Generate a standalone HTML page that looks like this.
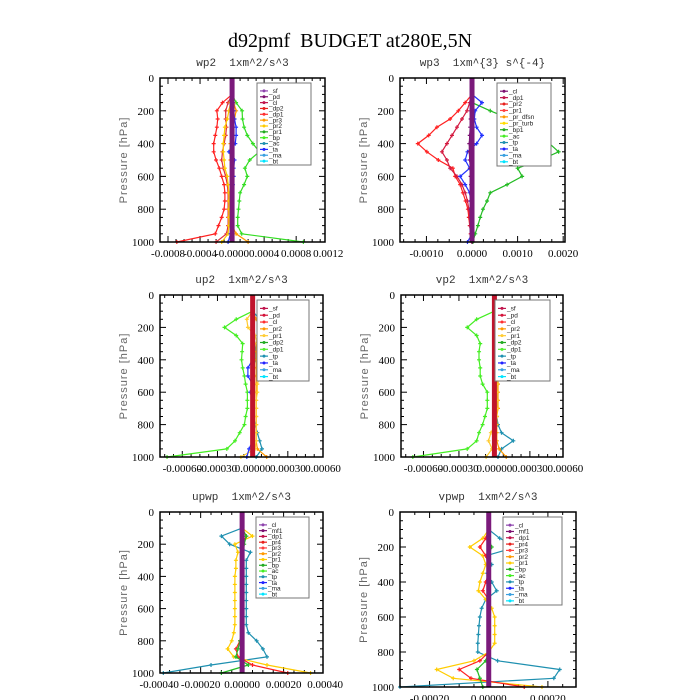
<!DOCTYPE html>
<html><head><meta charset="utf-8"><style>
html,body{margin:0;padding:0;background:#fff;}
svg{display:block;}
text{font-family:"Liberation Serif",serif;white-space:pre;}
.mono{font-family:"Liberation Mono","DejaVu Sans Mono",monospace;}
.sans{font-family:"Liberation Sans","DejaVu Sans",sans-serif;}
</style></head><body>
<svg id="chart" width="700" height="700" viewBox="0 0 700 700">
<text x="350" y="47" text-anchor="middle" font-size="20" xml:space="preserve">d92pmf  BUDGET at280E,5N</text>
</svg>
<script>
// pressure levels (hPa)
const P = [100,150,200,250,300,350,400,450,500,550,600,650,700,750,800,850,900,950,1000];
// values in units of 1e-4
const wp2_dp1 = [0,-1.2,-1.9,-1.8,-1.9,-2.1,-2.3,-2.3,-2,-1.6,-1.3,-1,-0.9,-0.9,-1,-1.3,-1.7,-2.1,-6.9];
const wp2_dp2 = [0,-0.5,-0.8,-0.8,-0.7,-0.8,-1,-1.2,-1.3,-1.1,-0.8,-0.6,-0.5,-0.5,-0.5,-0.5,-0.5,-0.7,-2];
const wp2_bp = [0,0.5,1.25,1.3,1.5,1.9,2.6,3.4,2.2,1.6,1.9,1.5,1,0.9,0.8,0.7,0.7,1.2,8.9];
const wp2_pr2 = [0,-0.2,-0.4,-0.6,-0.9,-1,-1.1,-1.1,-1,-0.9,-0.6,-0.5,-0.4,-0.4,-0.4,-0.4,-0.4,-0.5,-1.3];
const wp2_pr3 = [0,0.2,0.5,0.3,0.1,0,-0.2,-0.3,-0.2,0,0.1,0,0,0,0,0,0,0.5,2];
const wp2_ta = [0,0.1,0.2,0.3,0.5,0.5,0.4,-0.4,0.3,0.2,0.2,0.1,0,0,0,0,0,-0.2,-0.5];

const wp3_pr2 = [0,-1.5,-3,-4.8,-7.7,-9.5,-11.9,-9.9,-7.4,-4.2,-3.7,-2.6,-2,-1.4,-0.9,-0.7,-0.5,-0.3,0];
const wp3_dp1 = [0,-0.5,-1.1,-2.2,-3.3,-4.4,-5.5,-6.6,-5.5,-4.8,-3.3,-2.2,-1.5,-1,-0.7,-0.5,-0.4,-0.2,0];
const wp3_bp1 = [0,0,4,8.4,12,15,17,19,15,10,11,7.7,4,3.3,2.4,1.8,1.3,0.7,0.2];
const wp3_ta = [0,2.2,0.7,0.5,1,2.2,1,-1,-1.5,-0.5,-2.6,-1.5,-0.5,-0.3,-0.2,0,0,0,-1];
const wp3_cl = [0,0,-0.2,-0.3,-0.4,-0.5,-0.6,-0.6,-0.5,-0.4,-0.3,-0.2,-0.2,-0.1,-0.1,0,0,0,0];

const up2_dp1 = [0,-1.4,-2.4,-1.4,-0.85,-0.9,-0.95,-0.85,-0.7,-0.6,-0.45,-0.45,-0.45,-0.6,-0.7,-1.1,-1.5,-2.2,-7.3];
const up2_tp = [0,0.6,2,1,0.3,0.2,0.2,0.1,0.1,0.1,0.1,0.1,0.1,0.1,0.2,0.4,0.6,0.8,0.3];
const up2_pr2 = [0,0.3,0.8,0.4,0.3,0.3,0.3,0.3,0.3,0.3,0.3,0.3,0.3,0.3,0.3,0.3,0.3,0.4,1.2];
const up2_pr1 = [0,-0.5,-0.4,0.2,0.4,0.5,0.6,0.7,0.6,0.4,0.4,0.3,0.3,0.3,0.3,0.3,0.3,0.2,-1];
const up2_ta = [0,0,0,0,0,0,0,-0.4,-0.4,0,-0.2,0,0,0,0,0,0,-0.3,-0.5];

const vp2_dp1 = [0,-1.5,-2.3,-1.5,-1.2,-1.3,-1.3,-1.2,-1.2,-1.0,-0.6,-0.6,-0.6,-0.8,-1,-1.3,-1.5,-2.3,-6.9];
const vp2_tp = [0,0.9,1.5,0.8,0.4,0.3,0.3,0.2,0.2,0.2,0.2,0.2,0.2,0.2,0.3,0.6,1.6,0.6,0.3];
const vp2_pr2 = [0,0.4,0.6,0.5,0.4,0.3,0.3,0.3,0.3,0.3,0.3,0.3,0.3,0.2,0.2,0.2,0.2,0.4,1];
const vp2_pr1 = [0,0.2,0.3,0.3,0.3,0.3,0.2,0.2,0.2,0.2,0.2,0.2,0.2,0.2,0.1,-0.3,-0.5,-0.2,-0.7];

const upwp_tp = [0,-1.0,-0.6,0.4,0.2,0.2,0.2,0.2,0.2,0.2,0.2,0.2,0.2,0.3,0.7,1.0,1.2,-1.5,-3.8];
const upwp_pr1 = [0,0.5,-0.35,-0.2,-0.3,-0.3,-0.35,-0.35,-0.35,-0.35,-0.35,-0.35,-0.35,-0.4,-0.5,-0.7,-0.4,1.2,3.3];
const upwp_pr4 = [0,0.2,0,0,0,0,0,0,0,0,0,0,0,0,-0.1,-0.3,-0.2,0.5,2.2];
const upwp_bp = [0,0.2,0.1,0,0,0,0,0,0,0,0,0,0,0,-0.1,-0.2,-0.3,0.3,-1];

const vpwp_ma = [0,0.37,0.94,-0.1,0.1,-0.05,0.1,0.27,-0.1,-0.24,-0.3,-0.33,-0.35,-0.37,-0.37,0.3,2.4,2.2,-3.0];
const vpwp_pr1 = [0,-0.2,-0.64,-0.2,-0.1,-0.2,-0.3,-0.35,-0.1,0.1,0.2,0.2,0.2,0.2,0,-0.5,-1.76,-1.2,1.8];
const vpwp_pr4 = [0,-0.1,-0.3,-0.1,0,0,-0.1,-0.2,0,0,0,0,0,0,0,-0.3,-1,-0.6,1.2];
const vpwp_bp = [0,0,0.1,0,0,0,0,0,0,0,0,0,0,0,0,-0.1,-0.4,-0.3,-0.2];

const yTicks = [0,200,400,600,800,1000];
const ticks1 = [-0.0008,-0.0004,0,0.0004,0.0008,0.0012];
const tickLabels1 = ["-0.0008","-0.0004","-0.0000","0.0004","0.0008","0.0012"];
const ticks2 = [-0.001,0,0.001,0.002];
const tickLabels2 = ["-0.0010","0.0000","0.0010","0.0020"];
const ticks3 = [-0.0006,-0.0003,0,0.0003,0.0006];
const tickLabels3 = ["-0.00060","-0.00030","0.00000","0.00030","0.00060"];
const ticks5 = [-0.0004,-0.0002,0,0.0002,0.0004];
const tickLabels5 = ["-0.00040","-0.00020","0.00000","0.00020","0.00040"];
const ticks6 = [-0.0002,0,0.0002];
const tickLabels6 = ["-0.00020","0.00000","0.00020"];

const legend1 = ["_sf","_pd","_cl","_dp2","_dp1","_pr3","_pr2","_pr1","_bp","_ac","_ta","_ma","_bt"];
const legend2 = ["_cl","_dp1","_pr2","_pr1","_pr_dfsn","_pr_turb","_bp1","_ac","_tp","_ta","_ma","_bt"];
const legend3 = ["_sf","_pd","_cl","_pr2","_pr1","_dp2","_dp1","_tp","_ta","_ma","_bt"];
const legend5 = ["_cl","_mf1","_dp1","_pr4","_pr3","_pr2","_pr1","_bp","_ac","_tp","_ta","_ma","_bt"];
const legendColors1 = ["#8e44ad","#7b1070","#c0144c","#e8201c","#ff3030","#ff9900","#ffcc00","#22aa22","#44ee22","#1e90b0","#2222ff","#3aa0e0","#00e5ff"];
const legendColors2 = ["#7b1070","#c0144c","#e8201c","#ff4040","#ff9900","#ffdd00","#22aa22","#44ee22","#1e90b0","#2222ff","#3aa0e0","#00e5ff"];
const legendColors3 = ["#c0144c","#d4143a","#ff3030","#ff9900","#ffcc33","#22aa22","#55ee33","#1e90b0","#2222ff","#3aa0e0","#00e5ff"];
const legendColors5 = ["#8e44ad","#7b1070","#c0144c","#e8201c","#ff4040","#ff9900","#ffcc00","#22aa22","#44ee22","#1e90b0","#2222ff","#3aa0e0","#00e5ff"];

const panels = [
 {name:"wp2",title:"wp2  1xm^2/s^3",x0:160,x1:325,y0:78,y1:242,dom:[-0.0009,0.00116],ticks:ticks1,labels:tickLabels1,
  leg:[257,83,54,82],legend:legend1,legCol:legendColors1,center:"#7b1a7b",
  series:[[wp2_dp1,"#ff2020"],[wp2_dp2,"#e0303a"],[wp2_bp,"#33dd22"],[wp2_pr2,"#ffcc00"],[wp2_pr3,"#ff9900"],[wp2_ta,"#2233ff"]]},
 {name:"wp3",title:"wp3  1xm^{3} s^{-4}",x0:400,x1:565,y0:78,y1:242,dom:[-0.00158,0.00204],ticks:ticks2,labels:tickLabels2,
  leg:[497,83,54,83],legend:legend2,legCol:legendColors2,center:"#7b1a7b",
  series:[[wp3_pr2,"#ff2020"],[wp3_dp1,"#d41a40"],[wp3_bp1,"#22bb22"],[wp3_ta,"#2233ff"],[wp3_cl,"#7b1070"]]},
 {name:"up2",title:"up2  1xm^2/s^3",x0:160,x1:323,y0:295,y1:457,dom:[-0.00079,0.0006],ticks:ticks3,labels:tickLabels3,
  leg:[257,300,52,81],legend:legend3,legCol:legendColors3,center:"#c0142c",
  series:[[up2_dp1,"#44ee22"],[up2_tp,"#1e90b0"],[up2_pr2,"#ff9900"],[up2_pr1,"#ffcc33"],[up2_ta,"#2233ff"]]},
 {name:"vp2",title:"vp2  1xm^2/s^3",x0:401,x1:563,y0:295,y1:457,dom:[-0.00079,0.00058],ticks:ticks3,labels:tickLabels3,
  leg:[495,300,55,81],legend:legend3,legCol:legendColors3,center:"#c0142c",
  series:[[vp2_dp1,"#44ee22"],[vp2_tp,"#1e90b0"],[vp2_pr2,"#ff9900"],[vp2_pr1,"#ffcc33"]]},
 {name:"upwp",title:"upwp  1xm^2/s^3",x0:160,x1:323,y0:512,y1:673,dom:[-0.000396,0.00039],ticks:ticks5,labels:tickLabels5,
  leg:[256,517,53,81],legend:legend5,legCol:legendColors5,center:"#7b1a7b",
  series:[[upwp_tp,"#1e90b0"],[upwp_pr1,"#ffcc00"],[upwp_pr4,"#ff2020"],[upwp_bp,"#22bb22"]]},
 {name:"vpwp",title:"vpwp  1xm^2/s^3",x0:400,x1:576,y0:512,y1:687,dom:[-0.0003,0.000295],ticks:ticks6,labels:tickLabels6,
  leg:[503,517,59,88],legend:legend5,legCol:legendColors5,center:"#7b1a7b",
  series:[[vpwp_ma,"#1e90b0"],[vpwp_pr1,"#ffcc00"],[vpwp_pr4,"#ff2020"],[vpwp_bp,"#22bb22"]]}
];

const NS="http://www.w3.org/2000/svg";
const svg=document.getElementById('chart');
function mk(tag,attrs,parent){const e=document.createElementNS(NS,tag);for(const k in attrs)e.setAttribute(k,attrs[k]);(parent||svg).appendChild(e);return e;}

panels.forEach(pn=>{
 const g=mk('g',{});
 
 
 const xs=v=>pn.x0+(v-pn.dom[0])/(pn.dom[1]-pn.dom[0])*(pn.x1-pn.x0);
 const ys=p=>pn.y0+p/1000*(pn.y1-pn.y0);
 const t=mk('text',{x:(pn.x0+pn.x1)/2,y:pn.y0-12,'text-anchor':'middle','font-size':'11','class':'mono',fill:'#333'},g);
 t.textContent=pn.title;
 
 
 const yl=mk('text',{x:0,y:0,'text-anchor':'middle','font-size':'11','class':'sans',fill:'#666','letter-spacing':'1',transform:`translate(${pn.x0-33},${(pn.y0+pn.y1)/2}) rotate(-90)`},g);
 yl.textContent='Pressure [hPa]';
 
 
 for(let p=0;p<=1000;p+=50){
  const y=ys(p);const L=(p%200===0)?6:3;
  mk('line',{x1:pn.x0,x2:pn.x0+L,y1:y,y2:y,stroke:'#000','stroke-width':1},g);
  mk('line',{x1:pn.x1,x2:pn.x1-L,y1:y,y2:y,stroke:'#000','stroke-width':1},g);
 }
 yTicks.forEach(p=>{
  const tl=mk('text',{x:pn.x0-6,y:ys(p)+4,'text-anchor':'end','font-size':'11'},g);
  tl.textContent=String(p);
  
  
 });
 const step=pn.ticks[1]-pn.ticks[0];
 for(let k=-8;k<=pn.ticks.length*4+8;k++){
  const v=pn.ticks[0]+k*step/4;
  if(v<pn.dom[0]-1e-12||v>pn.dom[1]+1e-12)continue;
  const x=xs(v);const L=(k%4===0)?6:3;
  mk('line',{x1:x,x2:x,y1:pn.y1,y2:pn.y1-L,stroke:'#000','stroke-width':1},g);
  mk('line',{x1:x,x2:x,y1:pn.y0,y2:pn.y0+L,stroke:'#000','stroke-width':1},g);
 }
 pn.ticks.forEach((v,i)=>{
  const tl=mk('text',{x:xs(v),y:pn.y1+15,'text-anchor':'middle','font-size':'11'},g);
  tl.textContent=pn.labels[i];
  
  
 });
 pn.series.forEach(([arr,col],si)=>{
  const pts=arr.map((v,i)=>xs(v*1e-4).toFixed(1)+','+ys(P[i]).toFixed(1)).join(' ');
  const pl=mk('polyline',{points:pts,fill:'none',stroke:col,'stroke-width':1.2},g);
  
  
  arr.forEach((v,i)=>{
   const x=xs(v*1e-4),y=ys(P[i]);
   mk('path',{d:`M${x-2},${y}h4M${x},${y-2}v4`,stroke:col,'stroke-width':1.2},g);
  });
 });
 const cl=mk('line',{x1:xs(0),x2:xs(0),y1:pn.y0,y2:pn.y1,stroke:pn.center,'stroke-width':5},g);
 
 
 mk('rect',{x:pn.x0,y:pn.y0,width:pn.x1-pn.x0,height:pn.y1-pn.y0,fill:'none',stroke:'#000','stroke-width':1.5},g);
 const [lx,ly,lw,lh]=pn.leg;
 const lg=mk('g',{},g);
 
 
 mk('rect',{x:lx,y:ly,width:lw,height:lh,fill:'#fff',stroke:'#777','stroke-width':1},lg);
 const n=pn.legend.length, dy=(lh-6)/n;
 pn.legend.forEach((lab,i)=>{
  const y=ly+5+dy*(i+0.5);
  const c=pn.legCol[i];
  mk('line',{x1:lx+3,x2:lx+11,y1:y,y2:y,stroke:c,'stroke-width':1.2},lg);
  mk('circle',{cx:lx+7,cy:y,r:1.5,fill:c},lg);
  const tx=mk('text',{x:lx+12,y:y+2.2,'font-size':'6.5','class':'sans',fill:'#222'},lg);
  tx.textContent=lab;
  
  
 });
});
</script>
</body></html>
